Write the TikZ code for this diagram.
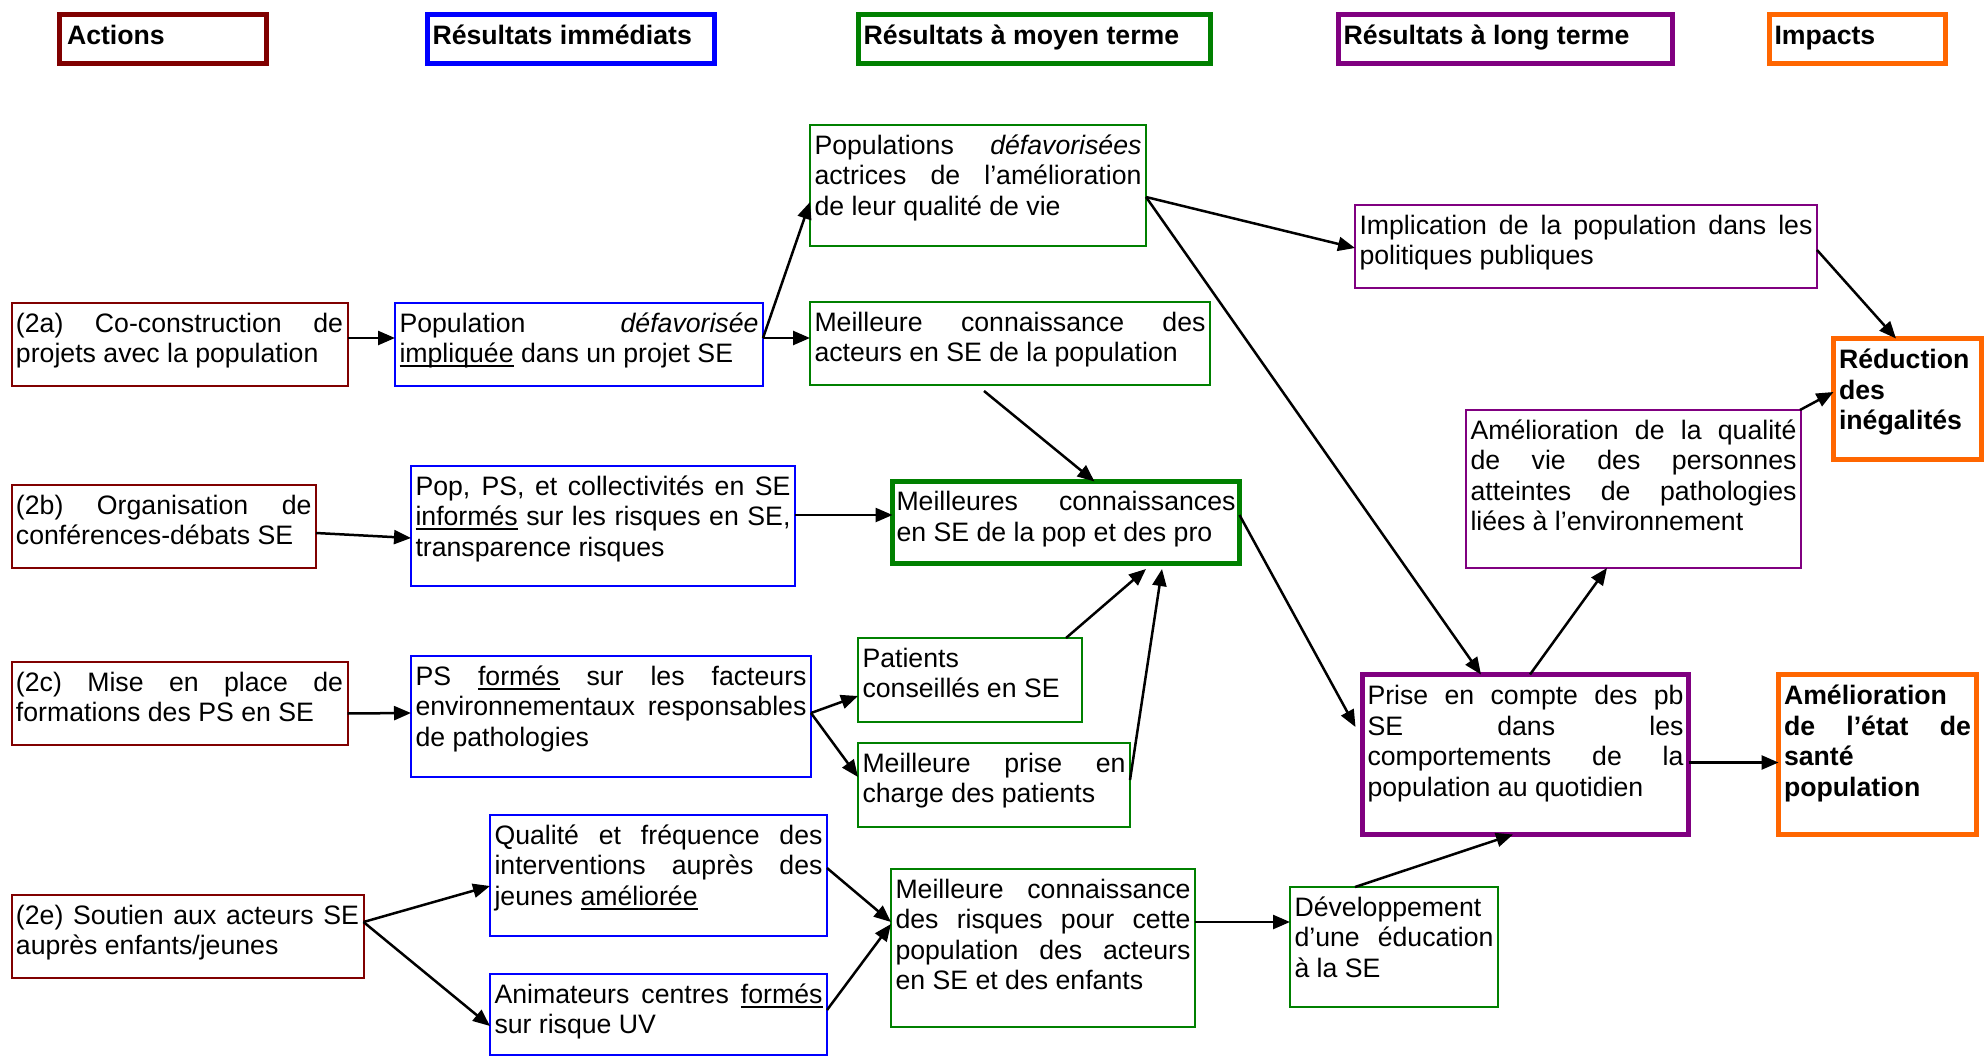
\documentclass[tikz,border=0pt]{standalone}
\usepackage{fontspec}
\setmainfont{Liberation Sans}
\usetikzlibrary{calc,arrows.meta}
\definecolor{cRed}{HTML}{800000}
\definecolor{cBlue}{HTML}{0000FF}
\definecolor{cGreen}{HTML}{008000}
\definecolor{cPurple}{HTML}{800080}
\definecolor{cOrange}{HTML}{FF6600}
\tolerance=10000
\pretolerance=-1
\hbadness=10000
\hyphenpenalty=10000
\exhyphenpenalty=10000
\newsavebox{\myulbox}
\newcommand\myul[1]{\sbox\myulbox{#1}\rlap{\rule[-4.5pt]{\wd\myulbox}{2pt}}\usebox\myulbox}
\newcommand\fs{\fontsize{26.67pt}{30.6pt}\selectfont}
\newcommand\bx[9]{%
  \pgfmathsetmacro\bxW{#5-#3}%
  \pgfmathsetmacro\bxH{#6-#4}%
  \pgfmathsetmacro\bxTW{#5-#3-2*#7}%
  \node[#2, minimum width=\bxW pt, minimum height=\bxH pt, anchor=north west] (#1) at (#3,#4) {};
  \node[txt, text width=\bxTW pt] (#1-t) at ($(#1.north west)+(#7,#8-24)$) {\noindent\rule{0pt}{24pt}#9};
}
\begin{document}
\begin{tikzpicture}[x=1pt,y=-1pt,
  boxbase/.style={draw, inner sep=0pt, outer sep=0pt},
  thin/.style={boxbase, line width=2pt},
  thick/.style={boxbase, line width=5pt},
  txt/.style={inner sep=0pt, outer sep=0pt, anchor=north west, align=justify, font=\fs},
  arr/.style={draw=black, line width=2.5pt, -{Triangle[length=17pt,width=14pt]}}]
\useasboundingbox (0,0) rectangle (1984,1057);
% headers
\bx{hA}{thick,draw=cRed}{59.5}{14.5}{266.5}{63.5}{7.5}{30.5}{\textbf{Actions}}
\bx{hI}{thick,draw=cBlue}{427.5}{14.5}{714.5}{63.5}{5}{30.5}{\textbf{Résultats immédiats}}
\bx{hM}{thick,draw=cGreen}{858.5}{14.5}{1210.5}{63.5}{5}{30.5}{\textbf{Résultats à moyen terme}}
\bx{hL}{thick,draw=cPurple}{1338.5}{14.5}{1672.5}{63.5}{5}{30.5}{\textbf{Résultats à long terme}}
\bx{hP}{thick,draw=cOrange}{1769.5}{14.5}{1945.5}{63.5}{5}{30.5}{\textbf{Impacts}}
% actions
\bx{a2}{thin,draw=cRed}{11.5}{303}{347.5}{386}{4.5}{29}{(2a) Co-construction de\linebreak projets avec la population}
\bx{b2}{thin,draw=cRed}{11.5}{485}{316}{568}{4.5}{29}{(2b) Organisation de\linebreak conférences-débats SE}
\bx{c2}{thin,draw=cRed}{11.5}{662}{347.5}{745}{4.5}{29}{(2c) Mise en place de\linebreak formations des PS en SE}
\bx{e2}{thin,draw=cRed}{11.5}{895}{363.5}{978}{4.5}{29}{(2e) Soutien aux acteurs SE\linebreak auprès enfants/jeunes}
% immediate results
\bx{i1}{thin,draw=cBlue}{395}{303}{763}{386}{4.5}{29}{Population \emph{défavorisée}\linebreak \myul{impliquée} dans un projet SE}
\bx{i2}{thin,draw=cBlue}{411}{466}{795}{586}{4.5}{29}{Pop, PS, et collectivités en SE\linebreak \myul{informés} sur les risques en SE,\linebreak transparence risques}
\bx{i3}{thin,draw=cBlue}{411}{656}{811}{777}{4.5}{29}{PS \myul{formés} sur les facteurs\linebreak environnementaux responsables\linebreak de pathologies}
\bx{i4}{thin,draw=cBlue}{490}{815}{827}{936}{4.5}{29}{Qualité et fréquence des\linebreak interventions auprès des\linebreak jeunes \myul{améliorée}}
\bx{i5}{thin,draw=cBlue}{490}{974}{827}{1055}{4.5}{29}{Animateurs centres \myul{formés}\linebreak sur risque UV}
% medium term
\bx{m1}{thin,draw=cGreen}{810}{125}{1146}{246}{4.5}{29}{Populations \emph{défavorisées}\linebreak actrices de l’amélioration\linebreak de leur qualité de vie}
\bx{m2}{thin,draw=cGreen}{810}{302}{1210}{385}{4.5}{29}{Meilleure connaissance des\linebreak acteurs en SE de la population}
\bx{m3}{thick,draw=cGreen}{892.5}{481.5}{1239.5}{563.5}{4}{29}{Meilleures connaissances\linebreak en SE de la pop et des pro}
\bx{m4}{thin,draw=cGreen}{858}{638}{1082}{722}{4.5}{29}{Patients\newline conseillés en SE}
\bx{m5}{thin,draw=cGreen}{858}{743}{1130}{827}{4.5}{29}{Meilleure prise en\linebreak charge des patients}
\bx{m6}{thin,draw=cGreen}{891}{869}{1195}{1027}{4.5}{29}{Meilleure connaissance\linebreak des risques pour cette\linebreak population des acteurs\linebreak en SE et des enfants}
\bx{m7}{thin,draw=cGreen}{1290}{887}{1498}{1007}{4.5}{29}{Développement\newline d’une éducation\linebreak à la SE}
% long term
\bx{l1}{thin,draw=cPurple}{1355}{205}{1817}{288}{4.5}{29}{Implication de la population dans les\linebreak politiques publiques}
\bx{l2}{thin,draw=cPurple}{1466}{410}{1801}{568}{4.5}{29}{Amélioration de la qualité\linebreak de vie des personnes\linebreak atteintes de pathologies\linebreak liées à l’environnement}
\bx{l3}{thick,draw=cPurple}{1362.5}{674.5}{1688.5}{834.5}{5}{30}{Prise en compte des pb\linebreak SE dans les\linebreak comportements de la\linebreak population au quotidien}
% impacts
\bx{p1}{thick,draw=cOrange}{1833.5}{338.5}{1981.5}{459.5}{5.5}{30}{\bfseries Réduction\newline des\newline inégalités}
\bx{p2}{thick,draw=cOrange}{1778.5}{674.5}{1976.5}{834.5}{5.5}{30}{\bfseries Amélioration\newline de l’état de\linebreak santé\newline population}
% connectors
\draw[arr] ($(a2.east)+(0,-6.5)$) -- ($(i1.west)+(0,-6.5)$);
\draw[arr] ($(i1.east)+(0,-6.5)$) -- ($(m1.west)+(0,16.5)$);
\draw[arr] ($(i1.east)+(0,-6.5)$) -- ($(m2.west)+(0,-5.5)$);
\draw[arr] ($(b2.east)+(0,6.5)$) -- ($(i2.west)+(0,12)$);
\draw[arr] ($(i2.east)+(0,-11)$) -- ($(m3.west)+(0,-7.5)$);
\draw[arr] ($(m2.south west)+(174,6)$) -- ($(m3.north west)+(202,0)$);
\draw[arr] ($(c2.east)+(0,10)$) -- ($(i3.west)+(0,-3.5)$);
\draw[arr] ($(i3.east)+(0,-3.5)$) -- ($(m4.west)+(0,16)$);
\draw[arr] ($(i3.east)+(0,-3.5)$) -- ($(m5.west)+(0,-8)$);
\draw[arr] ($(m4.north east)+(-16,0)$) -- ($(m3.south west)+(253.5,5.5)$);
\draw[arr] ($(m5.east)+(0,-5)$) -- ($(m3.south west)+(269.5,5.5)$);
\draw[arr] ($(m1.east)+(0,11.5)$) -- ($(l1.west)+(0,1.5)$);
\draw[arr] ($(m1.east)+(0,11.5)$) -- ($(l3.north west)+(118.5,0)$);
\draw[arr] ($(l1.east)+(0,3.5)$) -- ($(p1.north west)+(62.5,0)$);
\draw[arr] ($(m3.east)+(0,-7.5)$) -- ($(l3.west)+(-7,-27.5)$);
\draw[arr] ($(l3.north west)+(167.5,0)$) -- ($(l2.south west)+(141,0)$);
\draw[arr] ($(l2.north east)+(-1,0)$) -- ($(p1.west)+(0,-7)$);
\draw[arr] ($(l3.east)+(0,8)$) -- ($(p2.west)+(0,8)$);
\draw[arr] ($(e2.east)+(0,-14.5)$) -- ($(i4.west)+(0,10.5)$);
\draw[arr] ($(e2.east)+(0,-14.5)$) -- ($(i5.west)+(0,11.5)$);
\draw[arr] ($(i4.east)+(0,-7.5)$) -- ($(m6.west)+(0,-26)$);
\draw[arr] ($(i5.east)+(0,-4.5)$) -- ($(m6.west)+(0,-24)$);
\draw[arr] ($(m6.east)+(0,-26)$) -- ($(m7.west)+(0,-25)$);
\draw[arr] ($(m7.north west)+(65,0)$) -- ($(l3.south west)+(150.5,0)$);
\end{tikzpicture}
\end{document}
